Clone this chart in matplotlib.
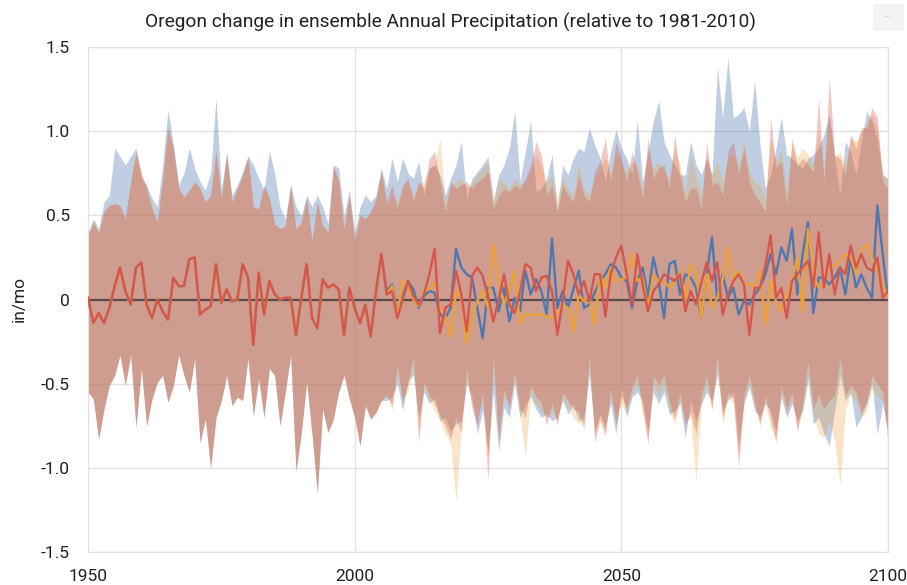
import matplotlib
matplotlib.use("Agg")
import matplotlib.pyplot as plt
from matplotlib.patches import FancyBboxPatch

plt.rcParams['font.family'] = ['Roboto', 'DejaVu Sans']

years = list(range(1950, 2101))

# historical period 1950-2005 (shared by the three ensembles)
hist_mean = [0.01, -0.14, -0.08, -0.14, -0.05, 0.08, 0.19, 0.05, -0.03, 0.19,
             0.22, -0.03, -0.11, 0.00, -0.07, -0.12, 0.13, 0.08, 0.08, 0.24,
             0.25, -0.09, -0.06, -0.04, 0.21, -0.02, 0.06, -0.01, 0.00, 0.21,
             0.13, -0.27, 0.16, -0.09, 0.11, 0.03, 0.00, 0.01, 0.01, -0.21,
             0.01, 0.21, -0.11, -0.17, 0.12, 0.07, 0.09, 0.06, -0.21, 0.07,
             -0.05, -0.14, -0.03, -0.22, 0.05, 0.27]
hist_hi = [0.38, 0.46, 0.40, 0.52, 0.56, 0.57, 0.56, 0.48, 0.70, 0.88,
           0.75, 0.66, 0.54, 0.46, 0.72, 1.02, 0.90, 0.66, 0.61, 0.65,
           0.70, 0.66, 0.58, 0.62, 0.88, 0.60, 0.87, 0.58, 0.66, 0.74,
           0.85, 0.55, 0.54, 0.68, 0.60, 0.45, 0.42, 0.44, 0.68, 0.42,
           0.46, 0.60, 0.35, 0.58, 0.44, 0.40, 0.79, 0.70, 0.42, 0.62,
           0.35, 0.50, 0.48, 0.52, 0.60, 0.76]
hist_lo = [-0.55, -0.59, -0.83, -0.65, -0.51, -0.45, -0.33, -0.51, -0.33, -0.76,
           -0.41, -0.75, -0.59, -0.49, -0.45, -0.61, -0.51, -0.33, -0.45, -0.55,
           -0.35, -0.85, -0.71, -1.00, -0.70, -0.60, -0.45, -0.63, -0.58, -0.60,
           -0.35, -0.69, -0.47, -0.70, -0.41, -0.45, -0.75, -0.55, -0.33, -1.02,
           -0.79, -0.49, -0.80, -1.15, -0.65, -0.79, -0.71, -0.55, -0.45, -0.59,
           -0.70, -0.87, -0.63, -0.71, -0.67, -0.60]
hist_blue_hi = [0.40, 0.48, 0.42, 0.58, 0.62, 0.90, 0.85, 0.80, 0.85, 0.90,
                0.72, 0.68, 0.60, 0.55, 0.80, 1.13, 0.92, 0.68, 0.75, 0.90,
                0.78, 0.70, 0.65, 0.75, 1.20, 0.65, 0.87, 0.62, 0.68, 0.76,
                0.85, 0.80, 0.72, 0.65, 0.88, 0.75, 0.55, 0.48, 0.68, 0.55,
                0.50, 0.62, 0.55, 0.62, 0.55, 0.45, 0.80, 0.78, 0.50, 0.65,
                0.40, 0.55, 0.62, 0.58, 0.62, 0.78]

# projections 2006-2100
blue_fut = [0.05, 0.09, -0.08, 0.02,
            0.11, 0.06, -0.05, 0.02, 0.05, 0.04, -0.09, -0.11, -0.05, 0.30,
            0.19, 0.15, 0.13, -0.05, -0.23, 0.07, 0.07, -0.07, 0.07, -0.13,
            0.01, -0.07, 0.17, 0.03, 0.12, 0.05, -0.09, 0.36, -0.05, 0.05,
            -0.05, 0.06, 0.17, -0.05, -0.03, 0.04, 0.11, 0.15, 0.21, 0.19,
            0.13, 0.11, -0.05, 0.11, 0.19, 0.01, 0.25, 0.11, -0.11, 0.21,
            0.23, 0.03, 0.15, 0.13, 0.07, -0.11, 0.15, 0.37, -0.01, 0.15,
            0.01, 0.07, -0.09, -0.01, -0.03, 0.03, 0.07, 0.15, 0.27, 0.15,
            0.31, 0.23, 0.42, 0.03, 0.27, 0.46, -0.08, 0.13, 0.13, 0.09,
            0.13, 0.19, 0.03, 0.25, 0.07, 0.15, 0.07, 0.01, 0.56, 0.27,
            0.01]
orange_fut = [0.03, 0.08, -0.10, 0.11,
              0.08, 0.00, -0.04, 0.05, 0.06, 0.10, -0.05, -0.10, -0.22, 0.05,
              0.00, -0.26, -0.10, -0.01, 0.05, -0.05, 0.33, 0.11, -0.03, 0.05,
              0.17, -0.15, -0.09, -0.09, -0.09, -0.09, -0.10, -0.11, -0.09, -0.03,
              -0.05, -0.19, 0.03, -0.01, 0.02, -0.15, 0.15, 0.07, 0.19, 0.11,
              0.12, 0.13, 0.27, 0.11, 0.13, -0.05, 0.15, 0.11, 0.11, 0.07,
              0.10, 0.17, -0.01, 0.21, 0.17, -0.11, 0.15, -0.05, 0.01, 0.12,
              0.31, 0.11, 0.17, 0.09, 0.09, 0.08, 0.17, -0.15, 0.11, -0.01,
              -0.07, 0.03, 0.11, 0.25, -0.07, 0.42, 0.15, 0.07, 0.09, 0.21,
              0.20, 0.23, 0.27, 0.25, 0.15, 0.29, 0.33, 0.25, 0.17, 0.10,
              0.01]
red_fut = [0.03, 0.05, -0.11, 0.00,
           0.11, 0.02, -0.03, 0.03, 0.15, 0.30, -0.20, -0.05, -0.03, 0.17,
           0.03, -0.19, 0.14, 0.19, 0.14, 0.02, -0.13, 0.00, 0.15, -0.03,
           -0.08, 0.05, 0.21, 0.19, 0.05, 0.13, 0.14, 0.05, -0.21, -0.01,
           0.23, 0.15, 0.03, 0.11, -0.01, 0.15, 0.15, -0.10, 0.15, 0.25,
           0.32, 0.15, -0.03, 0.27, 0.09, -0.07, 0.05, 0.09, 0.15, 0.13,
           0.11, 0.15, -0.07, 0.05, -0.03, 0.10, 0.22, 0.11, 0.22, -0.09,
           0.03, 0.11, 0.15, 0.09, -0.21, 0.07, 0.07, 0.20, 0.38, 0.01,
           0.07, -0.11, 0.11, 0.15, 0.19, 0.23, 0.07, 0.40, 0.07, 0.27,
           0.03, 0.19, 0.15, 0.32, 0.19, 0.27, 0.19, 0.17, 0.25, 0.01,
           0.05]

blue_hi_fut = [0.66, 0.84, 0.70, 0.84,
               0.75, 0.72, 0.82, 0.62, 0.78, 0.80, 0.74, 0.62, 0.72, 0.80,
               0.94, 0.60, 0.72, 0.76, 0.80, 0.85, 0.58, 0.74, 0.80, 0.90,
               1.12, 0.70, 0.88, 1.06, 0.64, 0.66, 0.72, 0.86, 0.54, 0.80,
               0.74, 0.84, 0.90, 0.88, 1.02, 0.92, 0.84, 0.70, 0.88, 1.01,
               0.90, 0.84, 0.74, 1.06, 0.70, 0.88, 1.06, 1.18, 0.94, 0.86,
               0.80, 0.74, 0.74, 0.94, 0.80, 0.74, 0.84, 0.74, 1.38, 1.08,
               1.44, 1.08, 1.10, 1.14, 1.00, 1.30, 0.92, 0.66, 0.74, 0.90,
               1.08, 0.86, 0.84, 0.80, 0.78, 0.84, 0.86, 0.90, 0.98, 1.10,
               0.84, 0.62, 0.94, 0.88, 0.74, 0.94, 1.12, 1.06, 0.95, 0.74,
               0.72]
orange_hi_fut = [0.55, 0.62, 0.58, 0.66,
                 0.70, 0.62, 0.68, 0.70, 0.78, 0.80, 0.96, 0.58, 0.66, 0.70,
                 0.72, 0.66, 0.70, 0.74, 0.78, 0.82, 0.60, 0.72, 0.70, 0.66,
                 0.72, 0.68, 0.70, 0.76, 0.86, 0.80, 0.70, 0.74, 0.60, 0.72,
                 0.66, 0.62, 0.80, 0.66, 0.62, 0.72, 0.78, 0.84, 0.74, 0.88,
                 0.80, 0.76, 0.82, 0.80, 0.66, 0.88, 0.78, 0.82, 0.76, 0.72,
                 0.90, 0.80, 0.64, 0.86, 0.72, 0.62, 0.86, 0.74, 0.82, 0.70,
                 0.84, 0.86, 0.80, 0.94, 0.76, 0.70, 0.68, 0.60, 0.96, 0.82,
                 0.88, 0.64, 0.96, 0.84, 0.90, 0.86, 0.80, 1.00, 0.76, 1.10,
                 0.84, 0.88, 0.80, 0.96, 0.94, 1.00, 1.04, 1.10, 1.02, 0.76,
                 0.70]
red_hi_fut = [0.58, 0.68, 0.54, 0.68,
              0.72, 0.58, 0.70, 0.66, 0.84, 0.88, 0.70, 0.52, 0.70, 0.66,
              0.68, 0.70, 0.66, 0.70, 0.72, 0.76, 0.54, 0.62, 0.66, 0.64,
              0.68, 0.66, 0.72, 0.80, 0.94, 0.86, 0.62, 0.68, 0.52, 0.68,
              0.62, 0.58, 0.74, 0.62, 0.58, 0.76, 0.82, 0.96, 0.70, 0.94,
              0.84, 0.70, 0.88, 0.76, 0.60, 0.96, 0.72, 0.78, 0.80, 0.66,
              0.98, 0.74, 0.58, 0.66, 0.66, 0.54, 0.94, 0.68, 0.70, 0.62,
              0.88, 0.94, 0.74, 0.90, 0.70, 0.62, 0.58, 0.52, 1.08, 0.78,
              0.82, 0.56, 0.94, 0.80, 0.84, 0.80, 0.76, 1.20, 0.70, 1.32,
              0.86, 0.84, 0.74, 0.98, 0.90, 1.02, 1.02, 1.14, 1.08, 0.70,
              0.66]

blue_lo_fut = [-0.60, -0.58, -0.50, -0.66,
               -0.48, -0.45, -0.70, -0.55, -0.62, -0.58, -0.72, -0.70, -0.78, -0.74,
               -0.72, -0.50, -0.58, -0.80, -0.66, -0.90, -0.55, -0.90, -0.64, -0.70,
               -0.50, -0.70, -0.62, -0.58, -0.65, -0.70, -0.68, -0.72, -0.70, -0.60,
               -0.68, -0.62, -0.72, -0.70, -0.45, -0.78, -0.68, -0.75, -0.62, -0.80,
               -0.52, -0.70, -0.58, -0.55, -0.60, -0.78, -0.55, -0.62, -0.55, -0.68,
               -0.66, -0.62, -0.82, -0.60, -0.72, -0.62, -0.55, -0.60, -0.45, -0.66,
               -0.60, -0.55, -0.85, -0.62, -0.52, -0.66, -0.70, -0.62, -0.66, -0.78,
               -0.58, -0.70, -0.62, -0.72, -0.66, -0.48, -0.74, -0.70, -0.80, -0.87,
               -0.66, -0.45, -0.60, -0.55, -0.76, -0.70, -0.62, -0.50, -0.80, -0.62,
               -0.78]
orange_lo_fut = [-0.55, -0.66, -0.45, -0.58,
                 -0.55, -0.40, -0.78, -0.52, -0.60, -0.66, -0.72, -0.80, -0.86, -1.20,
                 -0.76, -0.48, -0.62, -0.70, -0.60, -0.95, -0.40, -0.80, -0.58, -0.62,
                 -0.48, -0.68, -0.94, -0.56, -0.62, -0.66, -0.70, -0.66, -0.72, -0.58,
                 -0.64, -0.70, -0.74, -0.72, -0.40, -0.80, -0.70, -0.78, -0.58, -0.72,
                 -0.62, -0.68, -0.56, -0.50, -0.68, -0.82, -0.50, -0.58, -0.50, -0.66,
                 -0.74, -0.60, -0.72, -0.70, -1.08, -0.62, -0.50, -0.66, -0.40, -0.74,
                 -0.58, -0.62, -0.92, -0.60, -0.50, -0.64, -0.72, -0.62, -0.76, -0.82,
                 -0.56, -0.68, -0.60, -0.76, -0.66, -0.44, -0.68, -0.80, -0.82, -0.72,
                 -0.84, -1.10, -0.66, -0.56, -0.60, -0.70, -0.66, -0.52, -0.58, -0.60,
                 -0.80]
red_lo_fut = [-0.57, -0.63, -0.39, -0.61,
              -0.50, -0.33, -0.85, -0.49, -0.57, -0.62, -0.69, -0.75, -0.83, -0.70,
              -0.79, -0.41, -0.65, -0.75, -0.55, -1.08, -0.33, -0.85, -0.53, -0.65,
              -0.43, -0.65, -0.70, -0.51, -0.58, -0.61, -0.75, -0.61, -0.75, -0.55,
              -0.60, -0.65, -0.67, -0.77, -0.33, -0.85, -0.72, -0.81, -0.53, -0.75,
              -0.57, -0.65, -0.52, -0.45, -0.65, -0.86, -0.45, -0.51, -0.45, -0.61,
              -0.71, -0.55, -0.75, -0.67, -0.80, -0.57, -0.45, -0.65, -0.33, -0.71,
              -0.55, -0.59, -1.00, -0.57, -0.45, -0.61, -0.75, -0.57, -0.71, -0.85,
              -0.51, -0.65, -0.55, -0.79, -0.61, -0.37, -0.65, -0.57, -0.65, -0.60,
              -0.57, -0.35, -0.57, -0.51, -0.55, -0.67, -0.61, -0.45, -0.50, -0.55,
              -0.85]

# colour, band opacity, mean, upper, lower
series = [
    ('#4e78b0', 0.36, hist_mean + blue_fut, hist_blue_hi + blue_hi_fut, hist_lo + blue_lo_fut),
    ('#eda036', 0.28, hist_mean + orange_fut, hist_hi + orange_hi_fut, hist_lo + orange_lo_fut),
    ('#d6564b', 0.33, hist_mean + red_fut, hist_hi + red_hi_fut, hist_lo + red_lo_fut),
]

fig = plt.figure(figsize=(9.07, 5.85), dpi=100)
ax = fig.add_axes([88/907, 33/585, 800/907, 505/585])

for color, a, mean, hi, lo in series:
    ax.fill_between(years, lo, hi, color=color, alpha=a, linewidth=0, zorder=2)

ax.axhline(0, color='#5b4b4b', lw=1.6, zorder=3)

for color, a, mean, hi, lo in series:
    ax.plot(years, mean, color=color, lw=1.7, zorder=4)

ax.set_xlim(1950, 2100)
ax.set_ylim(-1.5, 1.5)
ax.set_xticks([1950, 2000, 2050, 2100])
ax.set_yticks([-1.5, -1.0, -0.5, 0, 0.5, 1.0, 1.5])
ax.set_yticklabels(['-1.5', '-1.0', '-0.5', '0', '0.5', '1.0', '1.5'])
ax.grid(True, color='#e2e2e2', lw=1, zorder=0)
for s in ax.spines.values():
    s.set_color('#e2e2e2')
ax.tick_params(axis='both', length=0, labelsize=12.5, colors='#222222')
ax.tick_params(axis='x', pad=12)
ax.tick_params(axis='y', pad=13)
ax.set_ylabel('in/mo', fontsize=12.5, color='#222222', labelpad=10)

fig.text(0.497, 0.962, 'Oregon change in ensemble Annual Precipitation (relative to 1981-2010)',
         ha='center', va='center', fontsize=13.8, color='#222222')

# menu button in the top right corner
btn = FancyBboxPatch((873/907, 1 - 31/585), 31/907, 27/585, boxstyle='round,pad=0,rounding_size=0.004',
                     transform=fig.transFigure, facecolor='#f3f3f3', edgecolor='none')
fig.patches.append(btn)
fig.text(888/907, 1 - 17/585, '···', ha='center', va='center', fontsize=7, color='#b0b0b0')

fig.savefig('out.png', dpi=100)
